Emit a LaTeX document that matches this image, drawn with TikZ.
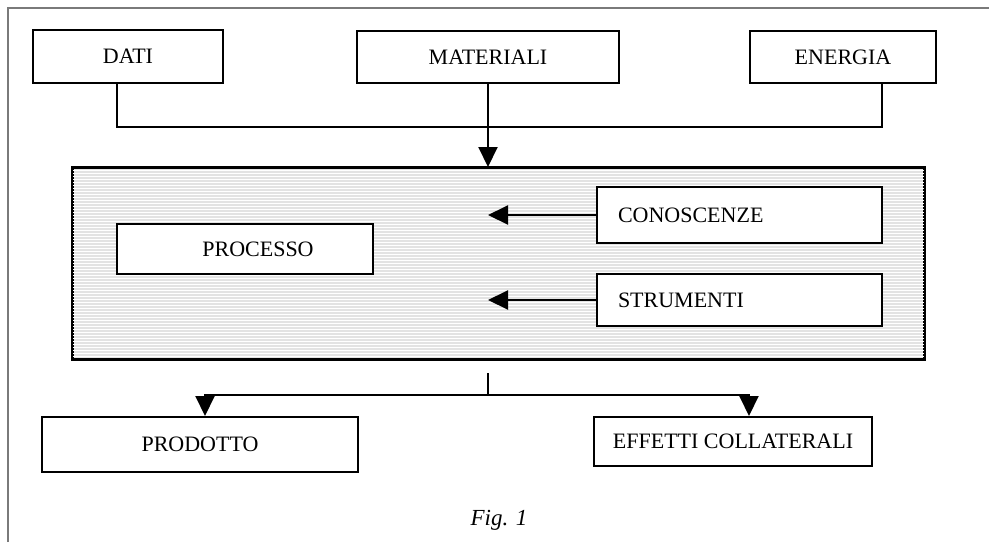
\documentclass[tikz,border=0pt]{standalone}
\usepackage{fontspec}
\setmainfont{Liberation Serif}
\usetikzlibrary{arrows.meta}

\definecolor{framegray}{HTML}{7A7A7A}
\definecolor{bandgray}{HTML}{E3E3E3}

\begin{document}
\begin{tikzpicture}[
    x=1pt, y=-1pt,
    every node/.style={font=\fontsize{22}{26}\selectfont},
    box/.style={draw=black, line width=2pt, fill=white, rectangle, inner sep=0pt},
    sidebox/.style={box, text width=243pt, inner xsep=21pt, align=left, minimum height=56pt},
    wire/.style={draw=black, line width=2pt},
    arrow/.style={wire, -{Triangle[width=19pt,length=20pt]}}
  ]
  \useasboundingbox (0,0) rectangle (989,542);

  % page frame
  \draw[framegray, line width=2pt] (8,542) -- (8,8) -- (989,8);

  % input boxes
  \node[box, minimum width=190pt, minimum height=53pt] (dati) at (128,56.5) {DATI};
  \node[box, minimum width=262pt, minimum height=52pt] (materiali) at (488,57) {MATERIALI};
  \node[box, minimum width=186pt, minimum height=52pt] (energia) at (843,57) {ENERGIA};

  % shaded process area
  \node[box, fill=bandgray, minimum width=851pt, minimum height=191pt] (area) at (498.5,263.5) {};
  \begin{scope}
    \clip (area.south west) rectangle (area.north east);
    \foreach \yy in {170.5,173.5,...,358} \draw[white, line width=1pt] (73,\yy) -- (924,\yy);
  \end{scope}
  \draw[line width=2pt] (area.south west) rectangle (area.north east);

  \node[box, minimum width=256pt, minimum height=50pt] (processo) at (245,249) {\hspace*{26pt}PROCESSO};
  \node[sidebox] (conoscenze) at (739.5,215) {CONOSCENZE};
  \node[sidebox, minimum height=52pt] (strumenti) at (739.5,300) {STRUMENTI};

  % output boxes
  \node[box, minimum width=316pt, minimum height=55pt] (prodotto) at (200,444.5) {PRODOTTO};
  \node[box, minimum width=278pt, minimum height=49pt] (effetti) at (733,441.5) {EFFETTI COLLATERALI};

  % input collector
  \coordinate (jl) at (117,127);
  \coordinate (jm) at (488,127);
  \coordinate (jr) at (882,127);
  \draw[wire] (jl |- dati.south) -- (jl) -- (jr) -- (jr |- energia.south);
  \draw[wire] (materiali.south) -- (jm);
  \draw[arrow] (jm) -- (jm |- area.north);

  % knowledge and tools feeding the process
  \draw[arrow] (conoscenze.west) -- ++(-108,0);
  \draw[arrow] (strumenti.west) -- ++(-108,0);

  % output splitter
  \coordinate (ot) at (488,373);
  \coordinate (om) at (488,395);
  \draw[wire] (ot) -- (om);
  \draw[arrow] (om) -| ([xshift=5pt]prodotto.north);
  \draw[arrow] (om) -| ([xshift=16pt]effetti.north);

  % caption
  \node[anchor=base, font=\fontsize{23}{27}\selectfont\itshape] (caption) at (499,525) {Fig. 1};
\end{tikzpicture}
\end{document}
